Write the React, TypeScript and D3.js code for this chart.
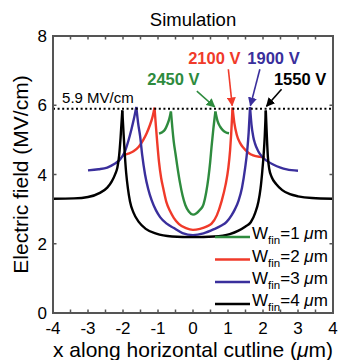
import React from "react";
import * as d3 from "d3";

const W = 338;
const H = 360;

const xTicks = [-4, -3, -2, -1, 0, 1, 2, 3, 4];
const xMinorTicks = [-4, -3.5, -3, -2.5, -2, -1.5, -1, -0.5, 0, 0.5, 1, 1.5, 2, 2.5, 3, 3.5, 4];
const yTicks = [0, 2, 4, 6, 8];

const seriesNames = ["1", "2", "3", "4"];
const seriesColors = ["#2e8b3e", "#f03a2a", "#3a2f9c", "#000000"];

// W_fin = 1 um
const green: [number, number][] = [
  [-0.97, 5.18], [-0.88, 5.22], [-0.8, 5.3], [-0.73, 5.45], [-0.68, 5.6], [-0.63, 5.82],
  [-0.59, 5.35], [-0.55, 4.95], [-0.5, 4.6], [-0.45, 4.25], [-0.37, 3.75], [-0.3, 3.4],
  [-0.22, 3.12], [-0.12, 2.93], [0, 2.84], [0.1, 2.88], [0.2, 2.98], [0.3, 3.14],
  [0.38, 3.5], [0.44, 3.9], [0.49, 4.35], [0.53, 4.8], [0.58, 5.3], [0.64, 5.82],
  [0.7, 5.55], [0.77, 5.39], [0.85, 5.28], [0.93, 5.22], [1.03, 5.19],
];
// W_fin = 2 um
const red: [number, number][] = [
  [-2.0, 4.55], [-1.85, 4.6], [-1.7, 4.67], [-1.55, 4.8], [-1.42, 5.0], [-1.32, 5.2],
  [-1.23, 5.43], [-1.16, 5.65], [-1.1, 5.93], [-1.06, 5.4], [-1.02, 4.9], [-0.97, 4.35],
  [-0.91, 3.9], [-0.85, 3.6], [-0.76, 3.2], [-0.66, 2.95], [-0.55, 2.75], [-0.4, 2.57],
  [-0.2, 2.45], [0, 2.4], [0.2, 2.43], [0.4, 2.5], [0.53, 2.58], [0.68, 2.82],
  [0.82, 3.24], [0.93, 3.7], [1.01, 4.19], [1.06, 4.7], [1.09, 5.15], [1.13, 5.93],
  [1.18, 5.5], [1.25, 5.15], [1.34, 4.92], [1.44, 4.77], [1.58, 4.63], [1.72, 4.55],
  [1.9, 4.51], [2.05, 4.5],
];
// W_fin = 3 um
const blue: [number, number][] = [
  [-3.0, 4.12], [-2.7, 4.15], [-2.45, 4.2], [-2.25, 4.3], [-2.09, 4.43], [-1.95, 4.65],
  [-1.85, 4.96], [-1.76, 5.3], [-1.69, 5.6], [-1.62, 5.95], [-1.57, 5.5], [-1.51, 5.1],
  [-1.45, 4.55], [-1.37, 4.0], [-1.28, 3.58], [-1.18, 3.25], [-1.06, 2.97], [-0.94, 2.77],
  [-0.75, 2.58], [-0.56, 2.46], [-0.3, 2.31], [0, 2.25], [0.3, 2.3], [0.6, 2.42],
  [0.8, 2.52], [0.96, 2.63], [1.1, 2.82], [1.2, 3.0], [1.3, 3.24], [1.4, 3.62],
  [1.49, 4.19], [1.55, 4.7], [1.59, 5.2], [1.63, 5.95], [1.67, 5.45], [1.72, 5.1],
  [1.77, 4.9], [1.86, 4.68], [1.96, 4.53], [2.1, 4.4], [2.29, 4.29], [2.5, 4.2],
  [2.68, 4.15], [3.0, 4.11],
];
// W_fin = 4 um
const black: [number, number][] = [
  [-4.0, 3.3], [-3.4, 3.31], [-3.0, 3.35], [-2.66, 3.47], [-2.45, 3.62], [-2.32, 3.8],
  [-2.22, 4.02], [-2.16, 4.2], [-2.11, 4.55], [-2.07, 5.05], [-2.02, 5.85],
  [-1.99, 5.3], [-1.95, 4.6], [-1.91, 4.05], [-1.86, 3.6], [-1.8, 3.22], [-1.7, 2.9],
  [-1.55, 2.63], [-1.35, 2.43], [-1.05, 2.29], [-0.6, 2.21], [0, 2.19], [0.6, 2.21],
  [1.05, 2.28], [1.3, 2.38], [1.5, 2.5], [1.65, 2.62], [1.78, 2.9], [1.87, 3.22],
  [1.93, 3.6], [1.98, 4.1], [2.02, 4.6], [2.05, 5.1], [2.08, 5.85], [2.11, 5.1],
  [2.14, 4.5], [2.18, 4.15], [2.25, 3.92], [2.38, 3.72], [2.55, 3.55], [2.77, 3.43],
  [3.0, 3.37], [3.4, 3.32], [4.0, 3.3],
];
const seriesData = [green, red, blue, black];

const thresholdValue = 5.9;
const thresholdLabel = "5.9 MV/cm";

// voltage annotations: label, text position (data), arrow start, arrow tip
const annoLabels = ["2450 V", "2100 V", "1900 V", "1550 V"];
const annoTextPos: [number, number][] = [[-0.56, 6.58], [0.61, 7.19], [2.3, 7.19], [3.06, 6.58]];
const annoFrom: [number, number][] = [[0.11, 6.41], [1.01, 7.04], [1.91, 7.04], [2.53, 6.46]];
const annoTo: [number, number][] = [[0.62, 5.95], [1.12, 5.99], [1.64, 5.99], [2.1, 5.97]];

const FONT = "'Liberation Sans', Arial, Helvetica, sans-serif";

function splitAtPeaks(pts: [number, number][]) {
  const segs: [number, number][][] = [];
  let cur: [number, number][] = [pts[0]];
  for (let i = 1; i < pts.length; i++) {
    cur.push(pts[i]);
    if (i < pts.length - 1 && pts[i][1] > pts[i - 1][1] && pts[i][1] > pts[i + 1][1]) {
      segs.push(cur);
      cur = [pts[i]];
    }
  }
  segs.push(cur);
  return segs;
}

export default function App() {
  const x = d3.scaleLinear().domain([-4, 4]).range([53, 333]);
  const y = d3.scaleLinear().domain([0, 8]).range([313, 36]);
  const line = d3
    .line<[number, number]>()
    .x((d) => x(d[0]))
    .y((d) => y(d[1]))
    .curve(d3.curveMonotoneX);

  const axisColor = "#555555";
  const x0 = x(-4), x1 = x(4), y0 = y(0), y1 = y(8);

  const legendX = 215;
  const legendY = [237, 259.5, 282, 304];

  return (
    <svg
      width={W}
      height={H}
      style={{ position: "absolute", left: 0, top: 0, background: "#fff" }}
      fontFamily={FONT}
    >
      <defs>
        {seriesColors.map((c, i) => (
          <marker
            key={i}
            id={"arr" + i}
            viewBox="0 0 10 10"
            refX="9"
            refY="5"
            markerWidth="9"
            markerHeight="9"
            markerUnits="userSpaceOnUse"
            orient="auto"
          >
            <path d="M0,0 L10,5 L0,10 Z" fill={c} />
          </marker>
        ))}
        <clipPath id="plotclip">
          <rect x={x0} y={y1} width={x1 - x0} height={y0 - y1} />
        </clipPath>
      </defs>

      {/* title */}
      <text x={(x0 + x1) / 2} y={26} textAnchor="middle" fontSize={18.5}>
        Simulation
      </text>

      {/* curves */}
      <g clipPath="url(#plotclip)">
        {seriesData.map((pts, i) =>
          splitAtPeaks(pts).map((seg, j) => (
            <path
              key={i + "-" + j}
              d={line(seg) || ""}
              fill="none"
              stroke={seriesColors[i]}
              strokeWidth={2.4}
              strokeLinejoin="round"
            />
          ))
        )}
      </g>

      {/* threshold dotted line */}
      <line
        x1={x0}
        x2={x1}
        y1={y(thresholdValue)}
        y2={y(thresholdValue)}
        stroke="#000"
        strokeWidth={2}
        strokeDasharray="2,2.6"
      />
      <text x={x(-3.74)} y={y(thresholdValue) - 6} fontSize={15}>
        {thresholdLabel}
      </text>

      {/* annotations */}
      {annoLabels.map((lab, i) => (
        <g key={lab}>
          <text
            x={x(annoTextPos[i][0])}
            y={y(annoTextPos[i][1])}
            textAnchor="middle"
            fontSize={16.5}
            fontWeight="bold"
            fill={seriesColors[i]}
          >
            {lab}
          </text>
          <line
            x1={x(annoFrom[i][0])}
            y1={y(annoFrom[i][1])}
            x2={x(annoTo[i][0])}
            y2={y(annoTo[i][1])}
            stroke={seriesColors[i]}
            strokeWidth={1.6}
            markerEnd={`url(#arr${i})`}
          />
        </g>
      ))}

      {/* legend */}
      {seriesNames.map((n, i) => (
        <g key={n}>
          <line
            x1={legendX}
            x2={legendX + 35}
            y1={legendY[i]}
            y2={legendY[i]}
            stroke={seriesColors[i]}
            strokeWidth={2.4}
          />
          <text x={legendX + 37} y={legendY[i] + 2} fontSize={17}>
            W
            <tspan fontSize={11.5} dy={5}>fin</tspan>
            <tspan dy={-5}>={n} </tspan>
            <tspan fontStyle="italic">μ</tspan>
            <tspan>m</tspan>
          </text>
        </g>
      ))}

      {/* axes box */}
      <rect x={x0} y={y1} width={x1 - x0} height={y0 - y1} fill="none" stroke={axisColor} strokeWidth={2} />
      {xMinorTicks.map((t) => (
        <g key={"xt" + t}>
          <line x1={x(t)} x2={x(t)} y1={y0} y2={y0 - 3.5} stroke={axisColor} strokeWidth={1.5} />
          <line x1={x(t)} x2={x(t)} y1={y1} y2={y1 + 3.5} stroke={axisColor} strokeWidth={1.5} />
        </g>
      ))}
      {yTicks.map((t) => (
        <g key={"yt" + t}>
          <line x1={x0} x2={x0 + 3.5} y1={y(t)} y2={y(t)} stroke={axisColor} strokeWidth={1.5} />
          <line x1={x1} x2={x1 - 3.5} y1={y(t)} y2={y(t)} stroke={axisColor} strokeWidth={1.5} />
        </g>
      ))}

      {/* tick labels */}
      {xTicks.map((t) => (
        <text key={"xl" + t} x={x(t)} y={y0 + 21} textAnchor="middle" fontSize={17}>
          {t < 0 ? "-" + Math.abs(t) : String(t)}
        </text>
      ))}
      {yTicks.map((t) => (
        <text key={"yl" + t} x={x0 - 6} y={y(t) + 6} textAnchor="end" fontSize={17}>
          {t}
        </text>
      ))}

      {/* axis titles */}
      <text x={(x0 + x1) / 2} y={357} textAnchor="middle" fontSize={21}>
        x along horizontal cutline (<tspan fontStyle="italic">μ</tspan>m)
      </text>
      <text
        transform={`translate(${28},${(y0 + y1) / 2}) rotate(-90)`}
        textAnchor="middle"
        fontSize={21}
      >
        Electric field (MV/cm)
      </text>
    </svg>
  );
}
